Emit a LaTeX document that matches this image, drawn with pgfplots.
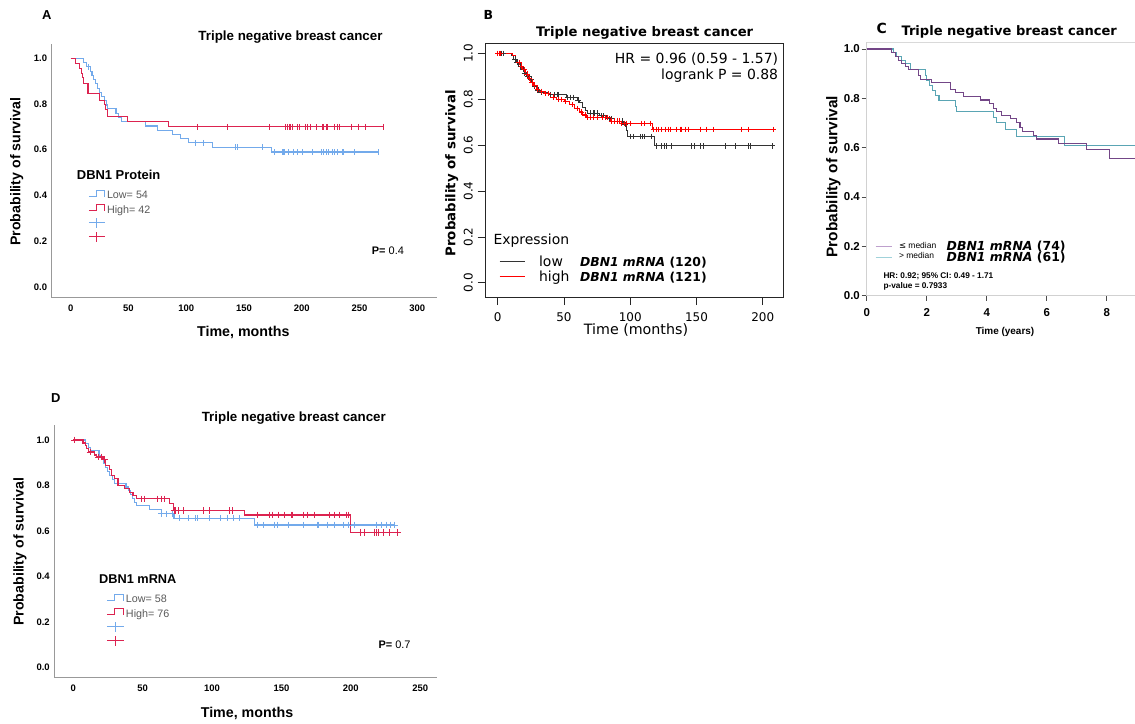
\documentclass[border=0pt]{standalone}
\usepackage{fontspec}
\setmainfont{Liberation Sans}
\newfontfamily\djv{DejaVu Sans}
\usepackage{pgfplots}
\pgfplotsset{compat=1.18}
\definecolor{bluA}{RGB}{115,170,235}
\definecolor{redA}{RGB}{220,35,80}
\definecolor{purC}{RGB}{115,70,135}
\definecolor{tealC}{RGB}{90,165,180}
\definecolor{purL}{RGB}{190,160,205}
\definecolor{tealL}{RGB}{160,210,218}
\newcommand{\sA}{\rule[-2.83bp]{0pt}{13.4bp}}
\newcommand{\sB}{\rule[-2.35bp]{0pt}{14.3bp}}
\newcommand{\sC}{\rule[-0.15bp]{0pt}{10.3bp}}
\pgfplotsset{
  spss/.style={
    scale only axis,
    axis x line*=bottom, axis y line*=left,
    axis line style={draw=black!40, line width=0.9bp},
    major tick length=0pt, tick style={draw=none},
    /pgf/number format/assume math mode=true,
    tick label style={font=\fontsize{9.5}{11}\selectfont\bfseries, inner sep=0pt},
    yticklabel style={anchor=east, xshift=-4.4bp, /pgf/number format/fixed, /pgf/number format/fixed zerofill, /pgf/number format/precision=1},
    xticklabel style={anchor=north, yshift=-6.6bp},
    ytick={0,0.2,0.4,0.6,0.8,1.0},
    legend cell align=left,
  },
  stepA/.style={const plot, no marks, line width=1.1bp, forget plot},
  censA/.style={only marks, mark=|, mark size=3bp, mark options={line width=1bp}, forget plot},
  censD/.style={only marks, mark=+, mark size=3.3bp, mark options={line width=0.9bp}, forget plot},
  legA/.style={legend style={draw=none, fill=none, at={#1}, anchor=north west, inner sep=0pt, outer sep=0pt, row sep=2.1bp, column sep=1.7bp, nodes={inner sep=0pt, outer sep=0pt}, font=\fontsize{10.8}{13.4}\selectfont}},
}
\begin{document}
\begin{tikzpicture}
\path[use as bounding box] (0bp,0bp) rectangle (1135bp,-724bp);

% ================= Panel A =================
\begin{axis}[spss, at={(51.7bp,-297.7bp)}, anchor=south west, width=385.3bp, height=253.7bp,
  xmin=-16.4, xmax=317, ymin=-0.048, ymax=1.063, xtick={0,50,100,150,200,250,300},
  legA={(0.095,0.4312)}]
\addplot[stepA, bluA] coordinates {(0,1) (11,0.981) (14,0.963) (17,0.944) (18.5,0.926) (20,0.907) (21.5,0.889) (23,0.87) (25,0.852) (27,0.833) (29,0.815) (31,0.796) (32,0.78) (39.2,0.76) (41.5,0.741) (43.8,0.722) (64.7,0.704) (74.8,0.686) (87.8,0.667) (95,0.648) (102.3,0.63) (122.5,0.61) (174,0.59) (267,0.59)};
\addplot[stepA, redA] coordinates {(0,1) (4,0.976) (7.5,0.955) (9,0.935) (10,0.915) (11,0.889) (15,0.845) (24.8,0.817) (29.2,0.798) (30.5,0.775) (32,0.745) (48.8,0.722) (85,0.70) (271,0.70)};
\addplot[censA, bluA] coordinates {(15.5,0.963) (108.4,0.63) (115,0.63) (142.5,0.61) (144,0.61) (165.6,0.61) (176.6,0.59) (183,0.59) (184.4,0.59) (185.2,0.59) (188.7,0.59) (192.5,0.59) (196,0.59) (200.3,0.59) (209,0.59) (216.8,0.59) (219,0.59) (221.4,0.59) (223.4,0.59) (226.3,0.59) (228.3,0.59) (230.6,0.59) (235,0.59) (235.8,0.59) (245.6,0.59) (266.7,0.59)};
\addplot[censA, redA] coordinates {(110,0.70) (136,0.70) (172,0.70) (186,0.70) (187.5,0.70) (189,0.70) (190.5,0.70) (192,0.70) (196,0.70) (198,0.70) (203,0.70) (205,0.70) (207.5,0.70) (213,0.70) (217.5,0.70) (219,0.70) (221,0.70) (222.5,0.70) (228.5,0.70) (230.5,0.70) (233,0.70) (243,0.70) (249,0.70) (255,0.70) (271,0.70)};
\addlegendimage{legend image code/.code={\draw[bluA,line width=1bp] (0bp,-2.3bp)--(7.4bp,-2.3bp)--(7.4bp,4bp)--(16bp,4bp)--(16bp,-2.3bp);}}
\addlegendentry{\sA\textcolor{black!65}{Low= 54}}
\addlegendimage{legend image code/.code={\draw[redA,line width=1bp] (0bp,-2.3bp)--(7.4bp,-2.3bp)--(7.4bp,4bp)--(16bp,4bp)--(16bp,-2.3bp);}}
\addlegendentry{\sA\textcolor{black!65}{High= 42}}
\addlegendimage{legend image code/.code={\draw[bluA,line width=1bp] (0bp,0bp)--(16bp,0bp) (8bp,-5bp)--(8bp,5bp);}}
\addlegendentry{\sA}
\addlegendimage{legend image code/.code={\draw[redA,line width=1bp] (0bp,0bp)--(16bp,0bp) (8bp,-5bp)--(8bp,5bp);}}
\addlegendentry{\sA}
\end{axis}
\node[font=\fontsize{13}{15}\selectfont\bfseries] at (46.7bp,-15bp) {A};
\node[inner sep=0pt, font=\fontsize{13.4}{15}\selectfont\bfseries] at (290.5bp,-37.3bp) {Triple negative breast cancer};
\node[inner sep=0pt, rotate=90, font=\fontsize{14.2}{16}\selectfont\bfseries] at (16.7bp,-171.7bp) {Probability of survival};
\node[inner sep=0pt, font=\fontsize{14.3}{16}\selectfont\bfseries] at (243.3bp,-332.7bp) {Time, months};
\node[inner sep=0pt, anchor=west, font=\fontsize{13}{15}\selectfont\bfseries] at (76.7bp,-175bp) {DBN1 Protein};
\node[inner sep=0pt, anchor=west, font=\fontsize{11}{13}\selectfont] at (371.7bp,-251bp) {\textbf{P=} 0.4};

% ================= Panel B =================
\begin{axis}[scale only axis, at={(485bp,-297.7bp)}, anchor=south west, width=298.3bp, height=254.4bp,
  xmin=-9.6, xmax=215.5, ymin=-0.065, ymax=1.044,
  axis line style={line width=0.8bp, draw=black!85},
  tick align=outside, major tick length=7.5bp, tick style={line width=0.8bp, draw=black!85},
  xtick pos=left, ytick pos=left,
  xtick={0,50,100,150,200}, ytick={0,0.2,0.4,0.6,0.8,1.0},
  /pgf/number format/assume math mode=true,
  tick label style={font=\djv\fontsize{12}{14}\selectfont, inner sep=0pt},
  yticklabel style={xshift=-4.6bp, rotate=90, anchor=south, /pgf/number format/fixed, /pgf/number format/fixed zerofill, /pgf/number format/precision=1},
  xticklabel style={anchor=north, yshift=-7.3bp},
  legend cell align=left,
  legend style={draw=none, fill=none, at={(0.0479,0.1696)}, anchor=north west, inner sep=0pt, outer sep=0pt, row sep=1.2bp, column sep=13.3bp, nodes={inner sep=0pt, outer sep=0pt}, font=\djv\fontsize{14}{14.3}\selectfont}]
\addplot[const plot, no marks, line width=0.9bp, black!80, forget plot] coordinates {(0,1.0) (10,0.99) (12,0.975) (14,0.96) (16,0.945) (18,0.93) (20,0.915) (22,0.9) (24,0.885) (26,0.87) (28,0.855) (30,0.84) (32,0.83) (38,0.82) (52,0.808) (60,0.797) (62,0.785) (64,0.765) (66,0.75) (68,0.74) (77,0.728) (82,0.716) (88,0.705) (95,0.69) (97,0.665) (98,0.637) (118.5,0.597) (207,0.597)};
\addplot[const plot, no marks, line width=0.9bp, red, forget plot] coordinates {(0,1.0) (11,0.99) (13,0.975) (15,0.96) (17,0.945) (19,0.93) (21,0.91) (23,0.89) (25,0.875) (27,0.86) (29,0.845) (31,0.835) (35,0.825) (40,0.81) (44,0.80) (50,0.79) (54,0.777) (58,0.76) (62,0.745) (64,0.732) (67,0.72) (85,0.705) (93,0.695) (116.5,0.669) (208,0.669)};
\addplot[only marks, mark=+, mark size=2.7bp, mark options={line width=0.7bp}, black!80, forget plot] coordinates {(3,1) (4.5,1) (13,0.975) (14.5,0.96) (17,0.945) (19,0.93) (20,0.915) (22.5,0.9) (23.5,0.9) (25,0.885) (28,0.855) (30,0.84) (31,0.84) (33,0.83) (40,0.82) (43,0.82) (45,0.82) (46,0.82) (52.5,0.808) (55,0.808) (57,0.808) (60.5,0.797) (70,0.74) (72,0.74) (73,0.74) (75,0.74) (78,0.728) (80,0.728) (84,0.716) (86,0.716) (90,0.705) (92,0.705) (94,0.705) (96,0.69) (99.8,0.637) (102.4,0.637) (107.9,0.637) (109.2,0.637) (110.4,0.637) (116.2,0.637) (120,0.597) (123.8,0.597) (125.5,0.597) (127.5,0.597) (131.3,0.597) (146.4,0.597) (148.2,0.597) (152.7,0.597) (155.2,0.597) (171.5,0.597) (179.1,0.597) (189.2,0.597) (190.9,0.597) (207,0.597)};
\addplot[only marks, mark=+, mark size=2.7bp, mark options={line width=0.7bp}, red, forget plot] coordinates {(0,1) (1,1) (2,1) (16,0.96) (18,0.945) (20,0.93) (22,0.91) (24,0.89) (26,0.875) (28,0.86) (30,0.845) (33,0.835) (36,0.825) (38,0.825) (42,0.81) (46,0.80) (48,0.80) (51,0.79) (56,0.777) (60,0.76) (63,0.745) (66,0.732) (68,0.72) (70,0.72) (72,0.72) (75,0.72) (79,0.72) (81,0.72) (83,0.72) (86,0.705) (88,0.705) (90,0.705) (92,0.705) (93.6,0.695) (95.3,0.695) (97.4,0.695) (99.8,0.695) (108.7,0.695) (110.4,0.695) (115.5,0.695) (117.5,0.669) (119.5,0.669) (121.2,0.669) (123.8,0.669) (126.3,0.669) (128.8,0.669) (130,0.669) (135.1,0.669) (137.6,0.669) (138.9,0.669) (141.4,0.669) (143.9,0.669) (152.7,0.669) (157.7,0.669) (162.7,0.669) (184.2,0.669) (189.2,0.669) (208,0.669)};
\addlegendimage{legend image code/.code={\draw[black!80,line width=0.8bp] (0bp,0bp)--(25.7bp,0bp);}}
\addlegendentry{\sB\makebox[41bp][l]{low}{\fontsize{12.4}{14}\selectfont\bfseries\itshape DBN1 mRNA \upshape(120)}}
\addlegendimage{legend image code/.code={\draw[red,line width=0.8bp] (0bp,0bp)--(25.7bp,0bp);}}
\addlegendentry{\sB\makebox[41bp][l]{high}{\fontsize{12.4}{14}\selectfont\bfseries\itshape DBN1 mRNA \upshape(121)}}
\end{axis}
\node[font=\djv\fontsize{12.5}{14}\selectfont\bfseries] at (488.3bp,-15bp) {B};
\node[inner sep=0pt, font=\djv\fontsize{13.2}{15}\selectfont\bfseries] at (644.7bp,-33.3bp) {Triple negative breast cancer};
\node[inner sep=0pt, anchor=east, font=\djv\fontsize{14}{16}\selectfont] at (778.3bp,-59.3bp) {HR = 0.96 (0.59 - 1.57)};
\node[inner sep=0pt, anchor=east, font=\djv\fontsize{14}{16}\selectfont] at (778.3bp,-76bp) {logrank P = 0.88};
\node[inner sep=0pt, rotate=90, font=\djv\fontsize{13.4}{15}\selectfont\bfseries] at (451.7bp,-173.3bp) {Probability of survival};
\node[inner sep=0pt, font=\djv\fontsize{14.3}{16}\selectfont] at (636bp,-330bp) {Time (months)};
\node[inner sep=0pt, anchor=west, font=\djv\fontsize{14}{16}\selectfont] at (493.3bp,-240.7bp) {Expression};

% ================= Panel C =================
\begin{axis}[scale only axis, at={(866.7bp,-295.7bp)}, anchor=south west, width=268.3bp, height=253.4bp,
  xmin=0, xmax=8.943, ymin=0, ymax=1.027,
  axis x line*=bottom, axis y line*=left,
  axis line style={draw=black!18, line width=0.9bp},
  tick align=outside, major tick length=5bp, tick style={draw=black!70, line width=0.7bp},
  xtick={0,2,4,6,8}, ytick={0,0.2,0.4,0.6,0.8,1.0},
  /pgf/number format/assume math mode=true,
  tick label style={font=\fontsize{11.5}{13}\selectfont\bfseries, inner sep=0pt},
  yticklabel style={anchor=east, xshift=-1.7bp, /pgf/number format/fixed, /pgf/number format/fixed zerofill, /pgf/number format/precision=1},
  xticklabel style={anchor=north, yshift=-7.7bp},
  legend cell align=left,
  legend style={draw=none, fill=none, at={(0.0309,0.2176)}, anchor=north west, inner sep=0pt, outer sep=0pt, row sep=-1bp, column sep=6.3bp, nodes={inner sep=0pt, outer sep=0pt}, font=\fontsize{8.5}{10.3}\selectfont}]
\draw[black!15, line width=0.9bp] (rel axis cs:0,1) -- (rel axis cs:1,1);
\addplot[const plot, no marks, line width=1.1bp, tealC, forget plot] coordinates {(0,1.0) (0.9,0.985) (1.0,0.97) (1.15,0.955) (1.3,0.94) (1.45,0.918) (1.95,0.893) (2.0,0.872) (2.09,0.851) (2.2,0.833) (2.28,0.812) (2.41,0.792) (2.96,0.765) (3.0,0.745) (4.22,0.724) (4.33,0.701) (4.63,0.674) (5.0,0.646) (6.58,0.61) (9,0.61)};
\addplot[const plot, no marks, line width=1.1bp, purC, forget plot] coordinates {(0,1.0) (0.83,0.985) (0.95,0.97) (1.05,0.955) (1.15,0.94) (1.3,0.93) (1.4,0.918) (1.72,0.893) (1.8,0.877) (2.17,0.865) (2.78,0.837) (2.95,0.823) (3.22,0.807) (3.78,0.793) (4.1,0.78) (4.23,0.76) (4.34,0.746) (4.5,0.73) (4.78,0.717) (5.0,0.703) (5.11,0.683) (5.2,0.665) (5.55,0.649) (5.67,0.635) (6.39,0.618) (7.33,0.592) (8.1,0.556) (9,0.556)};
\addlegendimage{legend image code/.code={\draw[purL,line width=1bp] (0bp,0bp)--(16.7bp,0bp);}}
\addlegendentry{\sC\makebox[47.7bp][l]{\raisebox{2.4bp}{{\djv ≤} median}}\smash{\djv\fontsize{12.5}{14}\selectfont\bfseries\itshape DBN1 mRNA \upshape(74)}}
\addlegendimage{legend image code/.code={\draw[tealL,line width=1bp] (0bp,0bp)--(16.7bp,0bp);}}
\addlegendentry{\sC\makebox[47.7bp][l]{\raisebox{2.4bp}{> median}}\smash{\djv\fontsize{12.5}{14}\selectfont\bfseries\itshape DBN1 mRNA \upshape(61)}}
\end{axis}
\node[inner sep=0pt, font=\djv\fontsize{14}{16}\selectfont\bfseries] at (881.7bp,-28.3bp) {C};
\node[inner sep=0pt, font=\djv\fontsize{13.1}{15}\selectfont\bfseries] at (1009.2bp,-31.7bp) {Triple negative breast cancer};
\node[inner sep=0pt, rotate=90, font=\fontsize{15.5}{17}\selectfont\bfseries] at (833.3bp,-176.7bp) {Probability of survival};
\node[inner sep=0pt, font=\fontsize{10}{12}\selectfont\bfseries] at (1005bp,-331.7bp) {Time (years)};
\node[inner sep=0pt, anchor=west, font=\fontsize{8.3}{10}\selectfont\bfseries] at (883.3bp,-276.7bp) {HR: 0.92; 95\% CI: 0.49 - 1.71};
\node[inner sep=0pt, anchor=west, font=\fontsize{8.3}{10}\selectfont\bfseries] at (883.3bp,-286bp) {p-value = 0.7933};

% ================= Panel D =================
\begin{axis}[spss, at={(54.3bp,-677.7bp)}, anchor=south west, width=382.4bp, height=252.7bp,
  xmin=-13.7, xmax=261.9, ymin=-0.046, ymax=1.066, xtick={0,50,100,150,200,250},
  legA={(0.137,0.3378)}]
\addplot[stepA, bluA] coordinates {(0,1) (8.5,0.983) (11,0.966) (12.5,0.952) (18.5,0.931) (20,0.914) (21.5,0.897) (23,0.879) (24.5,0.862) (26,0.845) (28,0.828) (30,0.81) (38,0.793) (39.5,0.776) (41,0.759) (42.5,0.741) (44,0.724) (45.4,0.712) (54.6,0.694) (63.5,0.675) (72.6,0.656) (130.8,0.626) (231.7,0.626)};
\addplot[stepA, redA] coordinates {(0,1.0) (7,0.987) (8.5,0.974) (9.4,0.961) (11.1,0.947) (15.4,0.934) (16.6,0.925) (21.4,0.915) (23.1,0.888) (26.2,0.87) (27.4,0.845) (29.8,0.83) (32.2,0.80) (37,0.785) (40.6,0.77) (43,0.756) (45.4,0.741) (69.5,0.722) (71.9,0.704) (72.6,0.69) (123.6,0.67) (200,0.594) (234,0.594)};
\addplot[censD, bluA] coordinates {(63.7,0.675) (67.3,0.675) (71.5,0.675) (76.7,0.656) (82.7,0.656) (88.2,0.656) (89.4,0.656) (97.8,0.656) (106.3,0.656) (111,0.656) (115.1,0.656) (120,0.656) (132.7,0.626) (136.8,0.626) (145.2,0.626) (147.1,0.626) (154.8,0.626) (165.6,0.626) (175.9,0.626) (176.9,0.626) (183.1,0.626) (188.5,0.626) (194.4,0.626) (198.1,0.626) (202.9,0.626) (218.5,0.626) (222.1,0.626) (225.7,0.626) (228.9,0.626) (231.3,0.626)};
\addplot[censD, redA] coordinates {(0.6,1.0) (12,0.947) (17.8,0.925) (20.2,0.925) (22.6,0.915) (49,0.741) (51,0.741) (60.6,0.741) (63.5,0.741) (65.9,0.741) (72.6,0.69) (73.6,0.69) (76,0.69) (79.1,0.69) (93.5,0.69) (98.3,0.69) (112.8,0.69) (114.4,0.69) (132.4,0.67) (141.6,0.67) (143.3,0.67) (147.6,0.67) (151.9,0.67) (157.2,0.67) (157.7,0.67) (165.6,0.67) (168.7,0.67) (173.6,0.67) (184.9,0.67) (188.5,0.67) (192.1,0.67) (196.9,0.67) (198.1,0.67) (207.2,0.594) (210.1,0.594) (216.8,0.594) (218.5,0.594) (219.7,0.594) (223.3,0.594) (228.1,0.594) (233.6,0.594)};
\addlegendimage{legend image code/.code={\draw[bluA,line width=1bp] (0bp,-2.3bp)--(7.4bp,-2.3bp)--(7.4bp,4bp)--(16.6bp,4bp)--(16.6bp,-2.3bp);}}
\addlegendentry{\sA\textcolor{black!65}{Low= 58}}
\addlegendimage{legend image code/.code={\draw[redA,line width=1bp] (0bp,-2.3bp)--(7.4bp,-2.3bp)--(7.4bp,4bp)--(16.6bp,4bp)--(16.6bp,-2.3bp);}}
\addlegendentry{\sA\textcolor{black!65}{High= 76}}
\addlegendimage{legend image code/.code={\draw[bluA,line width=1bp] (0bp,0bp)--(16.6bp,0bp) (8.3bp,-5bp)--(8.3bp,5bp);}}
\addlegendentry{\sA}
\addlegendimage{legend image code/.code={\draw[redA,line width=1bp] (0bp,0bp)--(16.6bp,0bp) (8.3bp,-5bp)--(8.3bp,5bp);}}
\addlegendentry{\sA}
\end{axis}
\node[font=\fontsize{13}{15}\selectfont\bfseries] at (55.7bp,-398.3bp) {D};
\node[inner sep=0pt, font=\fontsize{13.4}{15}\selectfont\bfseries] at (293.8bp,-417.7bp) {Triple negative breast cancer};
\node[inner sep=0pt, rotate=90, font=\fontsize{14.2}{16}\selectfont\bfseries] at (20bp,-551.7bp) {Probability of survival};
\node[inner sep=0pt, font=\fontsize{14.3}{16}\selectfont\bfseries] at (247bp,-713.3bp) {Time, months};
\node[inner sep=0pt, anchor=west, font=\fontsize{12.8}{15}\selectfont\bfseries] at (99bp,-579bp) {DBN1 mRNA};
\node[inner sep=0pt, anchor=west, font=\fontsize{11}{13}\selectfont] at (378.3bp,-644.3bp) {\textbf{P=} 0.7};
\end{tikzpicture}
\end{document}
